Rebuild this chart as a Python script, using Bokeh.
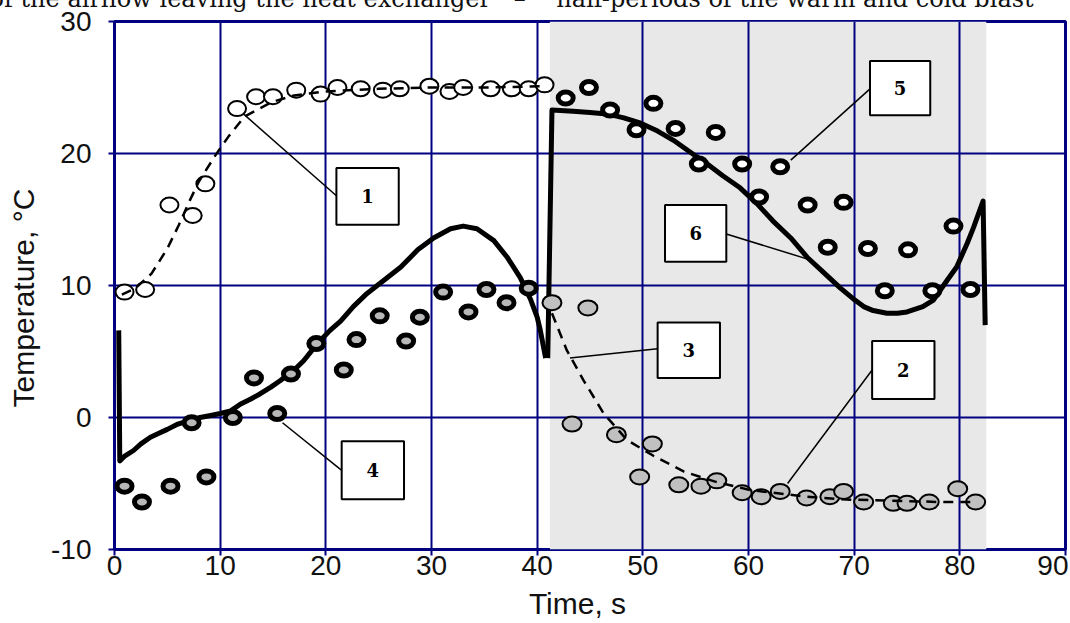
import math
from bokeh.plotting import figure
from bokeh.models import BoxAnnotation, Label, FixedTicker
from bokeh.embed import file_html
from bokeh.resources import INLINE

# ---------------- data ----------------
# 1: open circles (warm blast, air leaving) + dashed fit
s1_x = [0.95, 2.9, 5.2, 7.4, 8.6, 11.6, 13.4, 15.0, 17.2, 19.5, 21.1, 23.3, 25.4, 27.0, 29.8, 31.7, 33.0, 35.6, 37.6, 39.2, 40.7]
s1_y = [9.5, 9.7, 16.1, 15.3, 17.7, 23.4, 24.3, 24.3, 24.8, 24.5, 25.0, 24.9, 24.8, 24.9, 25.1, 24.7, 25.0, 24.9, 24.9, 24.9, 25.2]
l1_x = [0.7, 2.0, 3.5, 5.0, 6.1, 7.1, 8.0, 9.5, 10.8, 12.3, 14.9, 17.0, 20.0, 25.0, 30.0, 35.0, 40.7]
l1_y = [9.3, 9.8, 10.9, 12.8, 14.6, 16.4, 17.9, 19.8, 21.3, 22.8, 23.9, 24.4, 24.7, 24.9, 25.0, 25.0, 25.1]

# 2/3: grey circles (cold blast, air leaving) + dashed fit
s3_x = [41.4, 44.8, 43.3, 47.5, 50.9, 49.7, 53.4, 55.5, 57.0, 59.4, 61.2, 63.0, 65.5, 67.7, 69.0, 70.9, 73.7, 75.0, 77.1, 79.8, 81.5]
s3_y = [8.7, 8.3, -0.5, -1.3, -2.0, -4.5, -5.1, -5.2, -4.8, -5.7, -6.0, -5.6, -6.1, -6.0, -5.6, -6.4, -6.5, -6.5, -6.4, -5.4, -6.4]
l3_x = [41.4, 42.8, 44.4, 46.3, 48.5, 51.0, 53.9, 57.0, 60.2, 65.5, 68.7, 73.4, 78.1, 81.3]
l3_y = [7.9, 5.1, 2.8, 0.3, -1.7, -2.9, -4.1, -4.9, -5.5, -6.0, -6.2, -6.3, -6.4, -6.4]

# 4: dark rings with grey centre (warm blast) + model curve
s4_x = [0.95, 2.6, 5.3, 8.7, 7.3, 11.2, 13.2, 16.7, 15.4, 19.1, 21.7, 22.9, 25.1, 27.6, 28.9, 31.1, 33.5, 35.2, 37.1, 39.2]
s4_y = [-5.2, -6.4, -5.2, -4.5, -0.4, 0.0, 3.0, 3.3, 0.3, 5.6, 3.6, 5.9, 7.7, 5.8, 7.6, 9.5, 8.0, 9.7, 8.7, 9.8]
l4_x = [0.4, 0.5, 1.0, 1.8, 2.5, 3.4, 4.2, 5.0, 6.0, 7.2, 8.1, 9.1, 10.0, 11.0, 11.9, 12.9, 13.8, 14.8, 15.7,
        17.0, 17.9, 19.2, 20.4, 21.4, 22.6, 23.9, 25.5, 27.1, 28.7, 30.2, 31.8, 33.0, 34.3, 35.9, 37.2,
        38.4, 39.4, 40.0, 40.3, 40.8]
l4_y = [6.6, -3.3, -2.9, -2.5, -2.0, -1.5, -1.2, -0.9, -0.5, -0.2, 0.0, 0.15, 0.3, 0.5, 1.0, 1.4, 1.8, 2.3, 2.8,
        3.6, 4.3, 5.6, 6.6, 7.3, 8.4, 9.4, 10.4, 11.4, 12.7, 13.6, 14.3, 14.5, 14.3, 13.4, 12.1,
        10.6, 8.9, 7.6, 6.6, 4.5]

# 5: dark rings with white centre (cold blast) + model curve 6
s5_x = [42.7, 44.9, 46.9, 49.4, 51.0, 53.1, 55.3, 56.9, 59.4, 61.0, 63.0, 65.6, 69.0, 67.5, 71.3, 75.1, 79.4, 72.9, 77.4, 81.0]
s5_y = [24.2, 25.0, 23.3, 21.8, 23.8, 21.9, 19.2, 21.6, 19.2, 16.7, 19.0, 16.1, 16.3, 12.9, 12.8, 12.7, 14.5, 9.6, 9.6, 9.7]
l6_x = [41.0, 41.4, 43.4, 45.0, 46.6, 48.2, 49.8, 51.4, 52.9, 54.5, 56.1, 57.6, 59.2, 60.8, 62.3, 64.0, 65.6,
        67.1, 68.7, 69.9, 70.9, 71.8, 73.1, 74.1, 75.0, 76.5, 77.5, 78.8, 79.7, 80.7, 81.3, 82.2, 82.4]
l6_y = [4.5, 23.3, 23.2, 23.1, 23.0, 22.7, 22.3, 21.7, 21.0, 20.1, 19.2, 18.3, 17.4, 16.2, 14.9, 13.6, 12.1,
        11.0, 9.8, 9.0, 8.4, 8.1, 7.9, 7.9, 8.0, 8.4, 8.9, 10.4, 11.4, 13.2, 14.4, 16.4, 7.0]

x_ticks = [0, 10, 20, 30, 40, 50, 60, 70, 80, 90]
y_ticks = [-10, 0, 10, 20, 30]
callout_labels = ["1", "2", "3", "4", "5", "6"]
NB = "\u00a0"
caption = ("of the airflow leaving the heat exchanger " + NB * 2 + "–" + NB * 3
           + " half-periods of the warm and cold blast")
x_title = "Time, s" + NB * 3
y_title = "Temperature, °C" + NB * 3

NAVY = "#000080"
TOP_EXTRA = 40   # strip above the page edge that holds the cut-off caption

p = figure(width=1068, height=623 + TOP_EXTRA, x_range=(0, 90), y_range=(-10, 30),
           output_backend="svg", toolbar_location=None, title=caption,
           min_border_left=114, min_border_right=3, min_border_top=21 + TOP_EXTRA,
           min_border_bottom=74)
p.styles = {"margin-top": f"-{TOP_EXTRA}px"}
p.title.text_font = "DejaVu Serif"
p.title.text_font_size = "24px"
p.title.text_font_style = "normal"
p.title.text_color = "#111111"
p.title.align = "left"
p.title.offset = -125
p.title.standoff = 17

p.background_fill_color = "white"
p.border_fill_color = "white"
p.outline_line_color = NAVY
p.outline_line_width = 3
p.outline_line_alpha = 1

# shaded cold-blast half period
p.add_layout(BoxAnnotation(left=41.2, right=82.5, fill_color="#e8e8e8", fill_alpha=1,
                           line_color=None, level="image"))

for ax in (p.xaxis[0], p.yaxis[0]):
    ax.axis_line_color = None
    ax.major_tick_line_color = NAVY
    ax.major_tick_line_width = 2
    ax.major_tick_out = 6
    ax.major_tick_in = 0
    ax.minor_tick_line_color = None
    ax.major_label_text_font = "Liberation Sans"
    ax.major_label_text_font_size = "28px"
    ax.major_label_text_color = "#111111"
    ax.axis_label_text_font = "Liberation Sans"
    ax.axis_label_text_font_size = "30px"
    ax.axis_label_text_font_style = "normal"
    ax.axis_label_text_color = "#111111"
p.xaxis.ticker = FixedTicker(ticks=x_ticks)
p.yaxis.ticker = FixedTicker(ticks=y_ticks)
p.yaxis.major_label_overrides = {-10: "-10"}
p.xaxis.major_label_standoff = 0
p.yaxis.major_label_standoff = 17
p.xaxis.axis_label = x_title
p.xaxis.axis_label_standoff = 9
p.xaxis.axis_label_text_line_height = 0.6
p.xaxis.axis_label_text_baseline = "alphabetic"
p.yaxis.axis_label = y_title
p.yaxis.axis_label_standoff = 8
p.xgrid.ticker = FixedTicker(ticks=x_ticks)
p.ygrid.ticker = FixedTicker(ticks=y_ticks)
for g in (p.xgrid[0], p.ygrid[0]):
    g.grid_line_color = NAVY
    g.grid_line_width = 2
    g.grid_line_alpha = 1

# model curves
p.line(l4_x, l4_y, line_color="black", line_width=5, line_join="round")
p.line(l6_x, l6_y, line_color="black", line_width=5, line_join="round")

# markers
p.ellipse(x=s1_x, y=s1_y, width=18, height=15, width_units="screen", height_units="screen",
          fill_color="white", line_color="black", line_width=2)
p.ellipse(x=s3_x, y=s3_y, width=19, height=15, width_units="screen", height_units="screen",
          fill_color="#c0c0c0", line_color="black", line_width=2)
p.ellipse(x=s4_x, y=s4_y, width=15, height=12, width_units="screen", height_units="screen",
          fill_color="#b8b8b8", line_color="black", line_width=5)
p.ellipse(x=s5_x, y=s5_y, width=15, height=12, width_units="screen", height_units="screen",
          fill_color="white", line_color="black", line_width=5)

# dashed fits on top of markers
p.line(l1_x, l1_y, line_color="black", line_width=2.5, line_dash="10 7")
p.line(l3_x, l3_y, line_color="black", line_width=2.5, line_dash="10 7")

# call-out boxes: (left, right, top, bottom, leader from, leader to)
boxes = [
    (21.0, 26.9, 18.9, 14.6, (21.0, 16.8), (12.2, 23.0)),
    (71.7, 77.6, 5.8, 1.4, (71.7, 3.6), (63.7, -5.0)),
    (51.4, 57.3, 7.2, 3.0, (51.4, 5.2), (43.1, 4.5)),
    (21.5, 27.4, -1.8, -6.2, (21.5, -4.0), (15.9, -0.4)),
    (71.5, 77.2, 27.0, 22.9, (71.5, 24.9), (64.0, 19.5)),
    (52.1, 57.9, 16.1, 11.8, (57.9, 13.9), (65.6, 12.0)),
]
p.segment(x0=[b[4][0] for b in boxes], y0=[b[4][1] for b in boxes],
          x1=[b[5][0] for b in boxes], y1=[b[5][1] for b in boxes],
          line_color="black", line_width=1.5)
p.quad(left=[b[0] for b in boxes], right=[b[1] for b in boxes],
       top=[b[2] for b in boxes], bottom=[b[3] for b in boxes],
       fill_color="white", line_color="black", line_width=2)
for b, t in zip(boxes, callout_labels):
    p.add_layout(Label(x=(b[0] + b[1]) / 2, y=(b[2] + b[3]) / 2, text=t,
                       text_font="DejaVu Serif", text_font_style="bold", text_font_size="18px",
                       text_align="center", text_baseline="middle", text_color="black"))

open("out.html", "w").write(file_html(p, INLINE))
